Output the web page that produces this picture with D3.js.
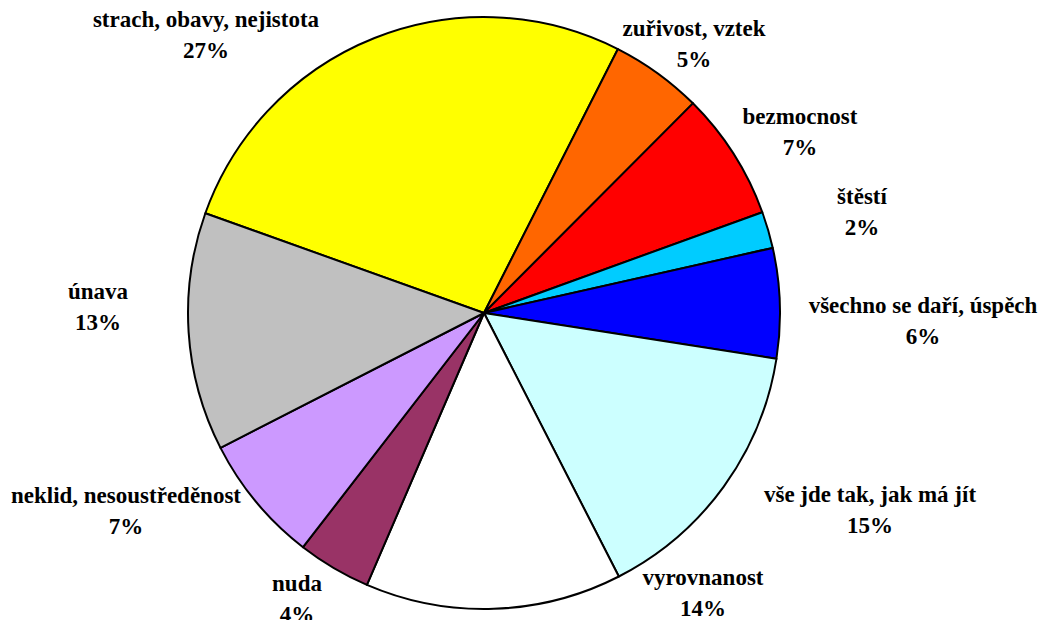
<!DOCTYPE html>
<html>
<head>
<meta charset="utf-8">
<script src="https://cdn.jsdelivr.net/npm/d3@7"></script>
<style>
  html, body { margin: 0; padding: 0; background: #fff; }
  svg { display: block; }
</style>
</head>
<body>
<svg id="chart" width="1042" height="620"></svg>
<script>
// ---- data ----
const categories = [
  "strach, obavy, nejistota",
  "zuřivost, vztek",
  "bezmocnost",
  "štěstí",
  "všechno se daří, úspěch",
  "vše jde tak, jak má jít",
  "vyrovnanost",
  "nuda",
  "neklid, nesoustředěnost",
  "únava"
];
const values = [27, 5, 7, 2, 6, 15, 14, 4, 7, 13];
const colors = ["#FFFF00", "#FF6600", "#FF0000", "#00CCFF", "#0000FF",
                "#CCFFFF", "#FFFFFF", "#993366", "#CC99FF", "#C0C0C0"];

// ---- layout ----
const width = 1042, height = 620;
const cx = 484, cy = 313, radius = 296;
const startDeg = -70.3;
const lineGap = 31;
// label anchors (center x, baseline y of first line)
const labelAnchors = [
  [206, 27], [694, 36], [800, 124], [862, 204], [923, 313],
  [870, 502], [703, 585], [297, 591], [126, 503], [98, 299]
];

const svg = d3.select("#chart");
const total = d3.sum(values);

const pie = d3.pie()
  .sort(null)
  .value(d => d)
  .startAngle(startDeg * Math.PI / 180)
  .endAngle(startDeg * Math.PI / 180 + 2 * Math.PI);

const arc = d3.arc().innerRadius(0).outerRadius(radius);

const g = svg.append("g").attr("transform", `translate(${cx},${cy})`);

g.selectAll("path")
  .data(pie(values))
  .join("path")
  .attr("d", arc)
  .attr("fill", (d, i) => colors[i])
  .attr("stroke", "#000")
  .attr("stroke-width", 2)
  .attr("stroke-linejoin", "round");

const fmt = d3.format(".0%");
const labels = svg.append("g")
  .attr("font-family", "'Liberation Serif', Tinos, 'Times New Roman', 'DejaVu Serif', serif")
  .attr("font-weight", "bold")
  .attr("font-size", 23)
  .attr("fill", "#000");
categories.forEach((c, i) => {
  const [x, y] = labelAnchors[i];
  const t = labels.append("text").attr("text-anchor", "middle");
  t.append("tspan").attr("x", x).attr("y", y).text(c);
  t.append("tspan").attr("x", x).attr("y", y + lineGap).text(fmt(values[i] / total));
});
</script>
</body>
</html>
